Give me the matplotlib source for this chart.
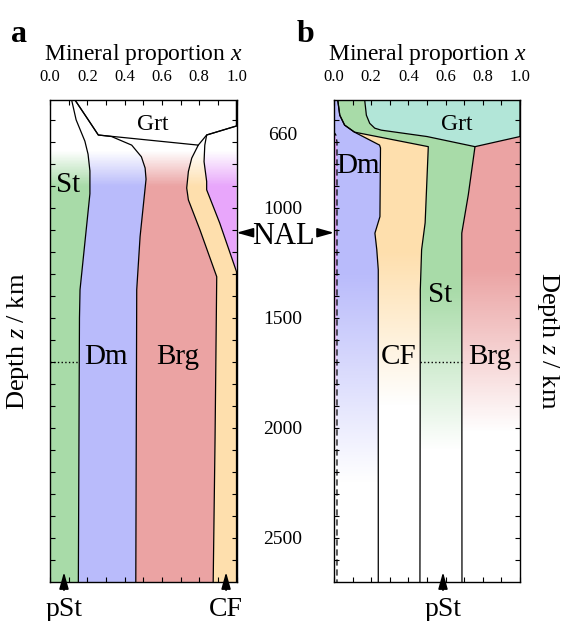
import numpy as np
import matplotlib
matplotlib.use('Agg')
import matplotlib.pyplot as plt
from matplotlib.patches import Polygon
from matplotlib.colors import to_rgb

plt.rcParams['font.family'] = 'Liberation Serif'
plt.rcParams['mathtext.fontset'] = 'custom'
plt.rcParams['mathtext.rm'] = 'Liberation Serif'
plt.rcParams['mathtext.it'] = 'Liberation Serif:italic'

Z_TOP, Z_BOT = 510, 2700

x_ticks = [0.0, 0.2, 0.4, 0.6, 0.8, 1.0]
x_tick_labels = ['0.0', '0.2', '0.4', '0.6', '0.8', '1.0']
depth_ticks = [660, 1000, 1500, 2000, 2500]
depth_tick_labels = ['660', '1000', '1500', '2000', '2500']
NAL_Z = 1113
MARK_Z = 1700

# panel a: cumulative proportion boundaries (depth km -> x), order St, Dm, Brg, Grt, CF, pv
a_st_z = [510, 600, 697, 756, 832, 936, 1068, 1372, 1500, 2700]
a_st_x = [0.116, 0.14, 0.187, 0.204, 0.214, 0.214, 0.198, 0.161, 0.158, 0.152]
a_dm_z = [510, 600, 669, 676, 715, 768, 819, 870, 1131, 1372, 2700]
a_dm_x = [0.134, 0.205, 0.259, 0.33, 0.438, 0.49, 0.51, 0.515, 0.483, 0.465, 0.46]
a_brg_z = [510, 600, 669, 715, 774, 835, 910, 964, 1100, 1313, 2050, 2700]
a_brg_x = [0.134, 0.205, 0.259, 0.795, 0.76, 0.742, 0.733, 0.742, 0.804, 0.894, 0.885, 0.875]
a_grt_z = [510, 628, 669, 715]
a_grt_x = [1.0, 1.0, 0.84, 0.795]
a_cf_z = [510, 628, 669, 715, 790, 880, 918, 1069, 1290, 2700]
a_cf_x = [1.0, 1.0, 0.84, 0.83, 0.826, 0.84, 0.84, 0.91, 1.0, 1.0]

# panel b: order pv, Dm, CF, St, Grt, Brg
b_pv_z = [510, 656, 669, 700, 2700]
b_pv_x = [0.0, 0.0, 0.01, 0.016, 0.016]
b_dm_z = [510, 579, 624, 656, 715, 728, 1040, 1115, 1190, 1281, 2700]
b_dm_x = [0.02, 0.031, 0.057, 0.11, 0.245, 0.25, 0.247, 0.22, 0.23, 0.238, 0.238]
b_cf_z = [510, 579, 624, 656, 722, 1068, 1190, 1372, 2700]
b_cf_x = [0.02, 0.031, 0.057, 0.11, 0.507, 0.49, 0.471, 0.464, 0.462]
b_st_z = [510, 579, 616, 638, 647, 676, 722, 941, 1115, 2700]
b_st_x = [0.165, 0.174, 0.192, 0.219, 0.254, 0.5, 0.758, 0.722, 0.687, 0.688]
b_grt_z = [510, 676, 722]
b_grt_x = [1.0, 1.0, 0.758]

colors = {'St': '#a8dba8', 'Dm': '#b9bbfb', 'Brg': '#eba3a3', 'CF': '#fedfad',
          'pv': '#e8a6fb', 'Grt': '#b2e6d8'}


def shade(ax, xl, zl, xr, zr, color, z_solid, z_clear):
    # region between two boundaries, with a vertical fade to white
    verts = list(zip(xl, zl)) + list(zip(xr[::-1], zr[::-1]))
    patch = Polygon(verts, closed=True, facecolor='none', edgecolor='none')
    ax.add_patch(patch)
    zz = np.linspace(Z_TOP, Z_BOT, 800)
    alpha = np.clip((zz - z_clear) / (z_solid - z_clear), 0, 1)
    img = np.zeros((len(zz), 2, 4))
    img[..., :3] = to_rgb(color)
    img[..., 3] = alpha[:, None]
    im = ax.imshow(img, extent=(0, 1, Z_BOT, Z_TOP), origin='upper', aspect='auto',
                   interpolation='nearest', zorder=1)
    im.set_clip_path(patch)


def setup(ax):
    ax.set_xlim(0, 1)
    ax.set_ylim(Z_BOT, Z_TOP)
    ax.xaxis.tick_top()
    ax.xaxis.set_label_position('top')
    ax.set_xticks(x_ticks)
    ax.set_xticklabels(x_tick_labels, fontsize=12)
    ax.set_xticks(np.arange(0, 1.01, 0.1), minor=True)
    ax.set_yticks(depth_ticks)
    ax.set_yticks(np.arange(600, 2700, 100), minor=True)
    ax.yaxis.remove_overlapping_locs = False
    ax.tick_params(which='both', direction='in', top=True, bottom=True, left=True,
                   right=True, length=3.5, width=0.8)
    ax.tick_params(axis='x', which='major', pad=11)
    ax.tick_params(axis='y', which='major', length=0)
    ax.set_xlabel('Mineral proportion $x$', fontsize=17, labelpad=6)
    for s in ax.spines.values():
        s.set_linewidth(1.0)


def arrow_label(ax, text, x):
    ax.annotate(text, xy=(x, 2655), xytext=(x, 2855), textcoords='data',
                ha='center', va='baseline', fontsize=20, annotation_clip=False,
                arrowprops=dict(arrowstyle='-|>,head_length=1.0,head_width=0.28',
                                color='k', lw=1.2, mutation_scale=10,
                                shrinkA=3, shrinkB=0))


fig = plt.figure(figsize=(5.62, 6.21), dpi=100)
ax_a = fig.add_axes([50 / 562, 39 / 621, 186.5 / 562, 482 / 621])
ax_b = fig.add_axes([334 / 562, 39 / 621, 186 / 562, 482 / 621])

# ---- panel a
edge0 = ([0, 0], [Z_TOP, Z_BOT])
edge1 = ([1, 1], [Z_TOP, Z_BOT])
fa = (900, 740)
shade(ax_a, edge0[0], edge0[1], a_st_x, a_st_z, colors['St'], *fa)
shade(ax_a, a_st_x, a_st_z, a_dm_x, a_dm_z, colors['Dm'], *fa)
shade(ax_a, a_dm_x, a_dm_z, a_brg_x, a_brg_z, colors['Brg'], *fa)
cf_left_x = a_grt_x + a_brg_x[4:]
cf_left_z = a_grt_z + a_brg_z[4:]
shade(ax_a, cf_left_x, cf_left_z, a_cf_x, a_cf_z, colors['CF'], *fa)
shade(ax_a, a_cf_x, a_cf_z, edge1[0], edge1[1], colors['pv'], *fa)

for xs, zs in [(a_st_x, a_st_z), (a_dm_x, a_dm_z), (a_brg_x, a_brg_z),
               (a_grt_x, a_grt_z), (a_cf_x, a_cf_z)]:
    ax_a.plot(xs, zs, color='k', lw=0.9, zorder=2)
ax_a.plot([0, a_st_x[-2]], [MARK_Z, MARK_Z], color='k', lw=1.0, ls=':', zorder=2)

ax_a.text(0.553, 647, 'Grt', ha='center', va='baseline', fontsize=17)
ax_a.text(0.097, 928, 'St', ha='center', va='baseline', fontsize=21)
ax_a.text(0.30, 1711, 'Dm', ha='center', va='baseline', fontsize=21)
ax_a.text(0.686, 1711, 'Brg', ha='center', va='baseline', fontsize=21)
arrow_label(ax_a, 'pSt', 0.075)
arrow_label(ax_a, 'CF', 0.944)
setup(ax_a)
ax_a.tick_params(axis='y', labelleft=False)

# ---- panel b
shade(ax_b, edge0[0], edge0[1], b_pv_x, b_pv_z, colors['pv'], 1300, 2150)
shade(ax_b, b_pv_x, b_pv_z, b_dm_x, b_dm_z, colors['Dm'], 1300, 2250)
shade(ax_b, b_dm_x, b_dm_z, b_cf_x, b_cf_z, colors['CF'], 1200, 1900)
shade(ax_b, b_cf_x, b_cf_z, b_st_x, b_st_z, colors['St'], 1370, 2100)
grt_right_x = b_grt_x + b_st_x[7:]
grt_right_z = b_grt_z + b_st_z[7:]
shade(ax_b, b_st_x, b_st_z, grt_right_x, grt_right_z, colors['Grt'], 3000, 4000)
shade(ax_b, grt_right_x, grt_right_z, edge1[0], edge1[1], colors['Brg'], 1280, 2020)

ax_b.plot(b_pv_x, b_pv_z, color='k', lw=0.9, dashes=(5, 3), zorder=2)
for xs, zs in [(b_dm_x, b_dm_z), (b_cf_x, b_cf_z), (b_st_x, b_st_z), (b_grt_x, b_grt_z)]:
    ax_b.plot(xs, zs, color='k', lw=0.9, zorder=2)
ax_b.plot([b_cf_x[-2], b_st_x[-1]], [MARK_Z, MARK_Z], color='k', lw=1.0, ls=':', zorder=2)

ax_b.text(0.66, 647, 'Grt', ha='center', va='baseline', fontsize=17)
ax_b.text(0.129, 841, 'Dm', ha='center', va='baseline', fontsize=21)
ax_b.text(0.57, 1426, 'St', ha='center', va='baseline', fontsize=21)
ax_b.text(0.345, 1711, 'CF', ha='center', va='baseline', fontsize=21)
ax_b.text(0.836, 1711, 'Brg', ha='center', va='baseline', fontsize=21)
arrow_label(ax_b, 'pSt', 0.586)
setup(ax_b)
ax_b.set_yticklabels(depth_tick_labels, fontsize=14)
ax_b.tick_params(axis='y', which='major', labelleft=True, pad=36.7)
for lab in ax_b.get_yticklabels():
    lab.set_ha('center')

# NAL marker between the panels
nal_arrow = dict(arrowstyle='-|>,head_length=1.0,head_width=0.28', color='k', lw=1.2,
                 mutation_scale=10, shrinkA=0, shrinkB=0)
ax_a.annotate('', xy=(1.0, NAL_Z), xytext=(1.08, NAL_Z), annotation_clip=False, arrowprops=nal_arrow)
ax_b.annotate('', xy=(0.0, NAL_Z), xytext=(-0.085, NAL_Z), annotation_clip=False, arrowprops=nal_arrow)
ax_a.text(1.249, NAL_Z, 'NAL', ha='center', va='center_baseline', fontsize=22, clip_on=False)

# depth labels and panel letters
fig.text(18 / 562, 1 - 341 / 621, 'Depth $z$ / km', rotation=90, ha='center', va='center', fontsize=19)
fig.text(548 / 562, 1 - 341 / 621, 'Depth $z$ / km', rotation=270, ha='center', va='center', fontsize=19)
fig.text(11 / 562, 1 - 42 / 621, 'a', fontsize=23, fontweight='bold', va='baseline')
fig.text(297 / 562, 1 - 42 / 621, 'b', fontsize=23, fontweight='bold', va='baseline')

fig.savefig('out.png', dpi=100)
